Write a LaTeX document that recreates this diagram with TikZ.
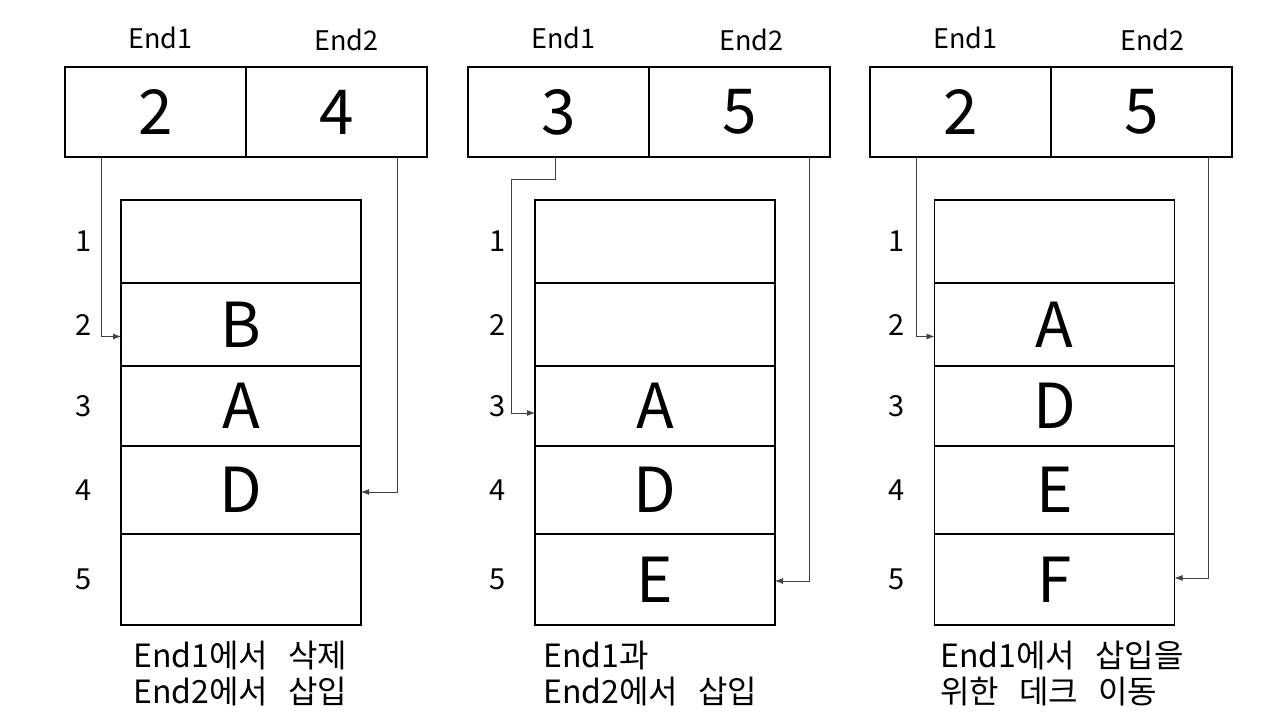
\documentclass[tikz,border=0pt]{standalone}
\usepackage{fontspec}
\setmainfont{Noto Sans CJK KR}
\newfontfamily\capfont[WordSpace=2.8]{Noto Sans CJK KR}
\usepackage{tikz}
\usetikzlibrary{arrows.meta}
\usetikzlibrary{positioning}

\begin{document}
\begin{tikzpicture}[x=1pt, y=-1pt,
    cell/.style={rectangle, draw=black, line width=1.1pt, outer sep=0pt, inner sep=0pt, minimum width=181pt, minimum height=90pt, font=\fontsize{62}{62}\selectfont},
    slot/.style={rectangle, draw=black, line width=1.1pt, outer sep=0pt, inner sep=0pt, minimum width=240pt, font=\fontsize{62}{62}\selectfont},
    endlabel/.style={font=\fontsize{27}{27}\selectfont},
    rowno/.style={font=\fontsize{29}{29}\selectfont, left=26pt},
    caption/.style={anchor=north west, align=left, inner sep=0pt, font=\capfont\fontsize{32}{36}\selectfont},
    ptr/.style={-{Latex[length=8pt, width=6pt]}, draw=black!75, line width=0.9pt}]
    \useasboundingbox (0,0) rectangle (1280,720);

    % First deque
    \node[cell] (hA1) at (155.5,112) {2};
    \node[cell] (hA2) [right=0pt of hA1] {4};
    \node[endlabel] at ([xshift=5pt, yshift=74pt]hA1.center) {End1};
    \node[endlabel] at ([xshift=10pt, yshift=72pt]hA2.center) {End2};

    \node[slot, minimum height=83pt] (sA1) at (241,241.5) {};
    \node[slot, minimum height=83pt] (sA2) [below=0pt of sA1] {B};
    \node[slot, minimum height=80pt] (sA3) [below=0pt of sA2] {A};
    \node[slot, minimum height=88pt] (sA4) [below=0pt of sA3] {D};
    \node[slot, minimum height=91pt] (sA5) [below=0pt of sA4] {};
    \node[rowno] at (sA1.west) {1};
    \node[rowno] at (sA2.west) {2};
    \node[rowno] at (sA3.west) {3};
    \node[rowno] at (sA4.west) {4};
    \node[rowno] at (sA5.west) {5};

    \draw[ptr] ([xshift=-54.5pt]hA1.south) |- ([yshift=-12pt]sA2.west);
    \draw[ptr] ([xshift=61pt]hA2.south) |- ([yshift=-2pt]sA4.east);

    \node[caption] (capA) at (133,641) {End1에서 삭제\\End2에서 삽입};

    % Second deque
    \node[cell] (hB1) at (558.5,112) {3};
    \node[cell] (hB2) [right=0pt of hB1] {5};
    \node[endlabel] at ([xshift=5pt, yshift=74pt]hB1.center) {End1};
    \node[endlabel] at ([xshift=12pt, yshift=72pt]hB2.center) {End2};

    \node[slot, minimum height=83pt] (sB1) at (655,241.5) {};
    \node[slot, minimum height=83pt] (sB2) [below=0pt of sB1] {};
    \node[slot, minimum height=80pt] (sB3) [below=0pt of sB2] {A};
    \node[slot, minimum height=88pt] (sB4) [below=0pt of sB3] {D};
    \node[slot, minimum height=91pt] (sB5) [below=0pt of sB4] {E};
    \node[rowno] at (sB1.west) {1};
    \node[rowno] at (sB2.west) {2};
    \node[rowno] at (sB3.west) {3};
    \node[rowno] at (sB4.west) {4};
    \node[rowno] at (sB5.west) {5};

    \draw[ptr] ([xshift=-3.5pt]hB1.south) -- ++(0,22) -| ([xshift=-24pt, yshift=-7pt]sB3.west) -- ([yshift=-7pt]sB3.west);
    \draw[ptr] ([xshift=70pt]hB2.south) |- ([yshift=-1.5pt]sB5.east);

    \node[caption] (capB) at (543,641) {End1과\\End2에서 삽입};

    % Third deque
    \node[cell] (hC1) at (960.5,112) {2};
    \node[cell] (hC2) [right=0pt of hC1] {5};
    \node[endlabel] at ([xshift=5pt, yshift=74pt]hC1.center) {End1};
    \node[endlabel] at ([xshift=11pt, yshift=72pt]hC2.center) {End2};

    \node[slot, minimum height=83pt] (sC1) at (1054.5,241.5) {};
    \node[slot, minimum height=83pt] (sC2) [below=0pt of sC1] {A};
    \node[slot, minimum height=80pt] (sC3) [below=0pt of sC2] {D};
    \node[slot, minimum height=88pt] (sC4) [below=0pt of sC3] {E};
    \node[slot, minimum height=91pt] (sC5) [below=0pt of sC4] {F};
    \node[rowno] at (sC1.west) {1};
    \node[rowno] at (sC2.west) {2};
    \node[rowno] at (sC3.west) {3};
    \node[rowno] at (sC4.west) {4};
    \node[rowno] at (sC5.west) {5};

    \draw[ptr] ([xshift=-44.5pt]hC1.south) |- ([yshift=-12pt]sC2.west);
    \draw[ptr] ([xshift=67pt]hC2.south) |- ([yshift=1.5pt]sC5.east);

    \node[caption] (capC) at (940,641) {End1에서 삽입을\\위한 데크 이동};

\end{tikzpicture}
\end{document}
